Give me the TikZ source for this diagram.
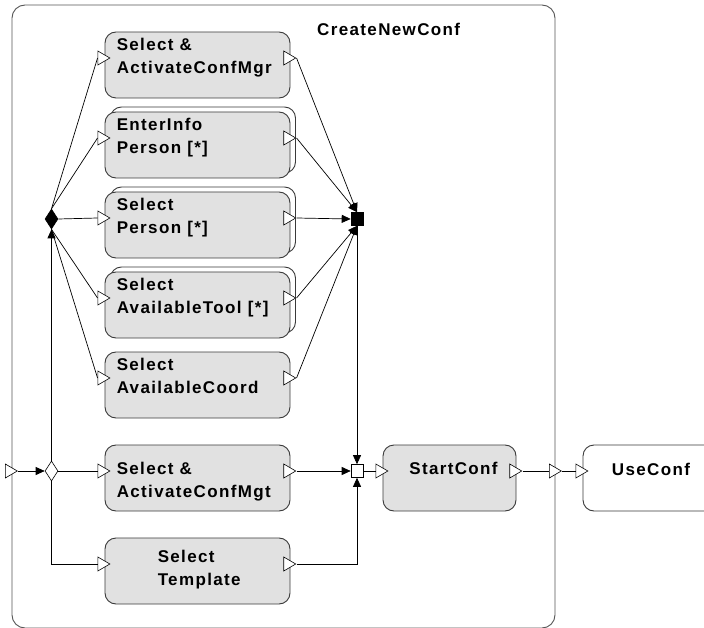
\documentclass[tikz,border=0pt]{standalone}
\usepackage{fontspec}
\setmainfont{Liberation Sans}
\newfontfamily\actfont[LetterSpace=8]{Liberation Sans}
\usepackage{xcolor}
\definecolor{linec}{HTML}{000000}
\definecolor{edgec}{HTML}{3A3A3A}
\definecolor{framec}{HTML}{555555}
\definecolor{actbg}{HTML}{E1E1E1}
\usetikzlibrary{arrows.meta,positioning,shapes.geometric,calc}
\tikzset{
  >={Triangle[length=9pt,width=8pt]},
  act/.style={draw=edgec,line width=0.9pt,fill=actbg,rounded corners=11pt,minimum width=185pt,minimum height=66pt,inner sep=0pt},
  actw/.style={act,fill=white},
  atxt/.style={font=\actfont\bfseries\fontsize{17}{23}\selectfont,align=left,inner sep=0pt,anchor=north west},
  ptri/.style={draw=black,fill=white,line width=0.6pt,isosceles triangle,isosceles triangle stretches,minimum width=14pt,minimum height=12pt,inner sep=0pt,anchor=west},
  dmd/.style={diamond,draw=black,line width=0.6pt,minimum width=13pt,minimum height=20pt,inner sep=0pt},
  jn/.style={rectangle,draw=black,line width=0.6pt,minimum width=12pt,minimum height=13pt,inner sep=0pt},
  flow/.style={draw=linec,line width=0.7pt},
  fl/.style={flow,->},
  frame/.style={draw=framec,line width=0.9pt,rounded corners=13pt},
}

\begin{document}
\begin{tikzpicture}[x=1pt,y=-1pt]
  \useasboundingbox (0,0) rectangle (704,628);
  \clip (0,0) rectangle (704,628);
  % CreateNewConf
  \draw[frame] (12,5) rectangle (555,628);
  \node[atxt] (cnc-t) at (317,23) {CreateNewConf};
  % actions
  \node[act] (scm) at (197.5,65) {};
  \node[actw] (eip-b) at (203,140) {};
  \node[act] (eip) at (197.5,145) {};
  \node[actw] (sp-b) at (203,220) {};
  \node[act] (sp) at (197.5,225) {};
  \node[actw] (sat-b) at (203,300) {};
  \node[act] (sat) at (197.5,305) {};
  \node[act] (sac) at (197.5,385) {};
  \node[act] (smg) at (197.5,478) {};
  \node[act] (stp) at (197.5,571) {};
  \node[act,minimum width=133pt] (sc) at (449.5,478) {};
  \node[actw,minimum width=136pt] (uc) at (651,478) {};
  \node[atxt] (scm-t) at ([xshift=12pt,yshift=-6pt]scm.north west) {Select \&\\ActivateConfMgr};
  \node[atxt] (eip-t) at ([xshift=12pt,yshift=-6pt]eip.north west) {EnterInfo\\Person [*]};
  \node[atxt] (sp-t) at ([xshift=12pt,yshift=-6pt]sp.north west) {Select\\Person [*]};
  \node[atxt] (sat-t) at ([xshift=12pt,yshift=-6pt]sat.north west) {Select\\AvailableTool [*]};
  \node[atxt] (sac-t) at ([xshift=12pt,yshift=-6pt]sac.north west) {Select\\AvailableCoord};
  \node[atxt] (smg-t) at ([xshift=12pt,yshift=-17pt]smg.north west) {Select \&\\ActivateConfMgt};
  \node[atxt] (stp-t) at ([xshift=53pt,yshift=-12pt]stp.north west) {Select\\Template};
  \node[atxt,anchor=north] (sc-t) at ([xshift=4pt,yshift=-17pt]sc.north) {StartConf};
  \node[atxt,anchor=north] (uc-t) at ([yshift=-18pt]uc.north) {UseConf};
  % pins
  \foreach \b in {scm,eip,sp,sat,sac,smg,stp,sc} {
    \node[ptri] (\b-i) at ([xshift=-7pt,yshift=7pt]\b.west) {};
    \node[ptri] (\b-o) at ([xshift=-7pt,yshift=7pt]\b.east) {};
  }
  \node[ptri] (uc-i) at ([xshift=-7pt,yshift=7pt]uc.west) {};
  \node[ptri] (ein) at (5,471) {};
  \node[ptri] (fo) at (549,471) {};
  % control nodes
  \node[dmd,fill=black] (fk) at (51.5,219) {};
  \node[dmd,fill=white] (dm) at (51.5,471) {};
  \node[jn,fill=black] (jb) at (357,219) {};
  \node[jn,fill=white] (jw) at (357,471) {};
  % flows
  \draw[fl] (ein.apex) -- (dm.west);
  \draw[flow] (dm.east) -- (smg-i.west);
  \draw[fl] (dm.north) -- (fk.south);
  \draw[flow] (dm.south) |- (stp-i.west);
  \foreach \b in {scm,eip} \draw[flow] (fk.north) -- (\b-i.west);
  \draw[flow] (fk.east) -- (sp-i.west);
  \foreach \b in {sat,sac} \draw[flow] (fk.south) -- (\b-i.west);
  \foreach \b in {scm,eip} \draw[fl] (\b-o.apex) -- (jb.north);
  \draw[fl] (sp-o.apex) -- (jb.west);
  \foreach \b in {sat,sac} \draw[fl] (\b-o.apex) -- (jb.south);
  \draw[fl] (jb.south) -- (jw.north);
  \draw[fl] (smg-o.apex) -- (jw.west);
  \draw[fl] (stp-o.apex) -| (jw.south);
  \draw[flow] (jw.east) -- (sc-i.west);
  \draw[flow] (sc-o.apex) -- (fo.west);
  \draw[flow] (fo.apex) -- (uc-i.west);
\end{tikzpicture}
\end{document}
